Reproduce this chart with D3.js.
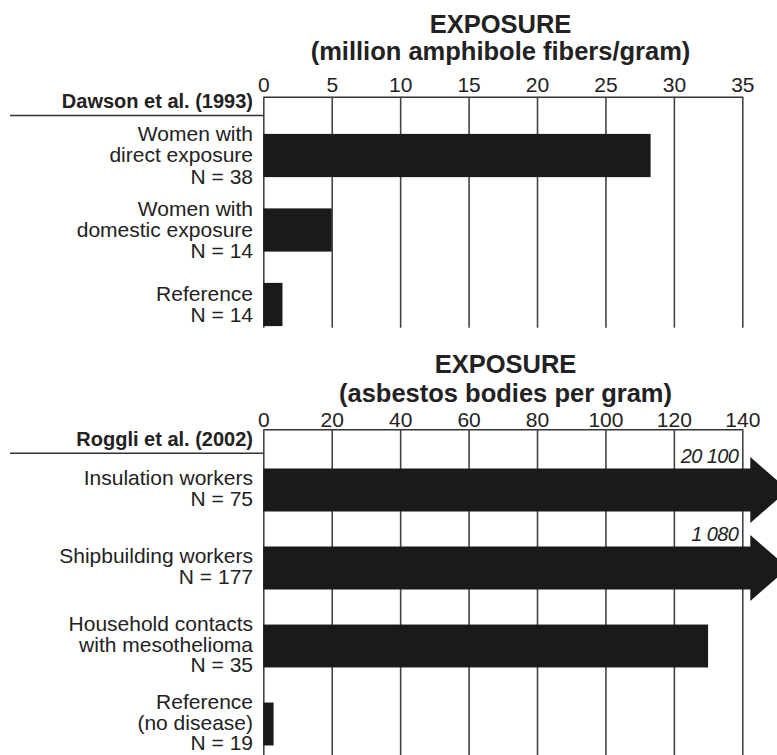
<!DOCTYPE html>
<html>
<head>
<meta charset="utf-8">
<script src="https://cdn.jsdelivr.net/npm/d3@7"></script>
<style>
  html, body { margin: 0; padding: 0; background: #fff; }
  svg { display: block; }
  text { font-family: "Liberation Sans", Arial, Helvetica, sans-serif; fill: #222; }
</style>
</head>
<body>
<svg id="chart" width="777" height="755"></svg>
<script>
// ---- Data ----
const dawsonTitle = "EXPOSURE";
const dawsonSubtitle = "(million amphibole fibers/gram)";
const dawsonStudy = "Dawson et al. (1993)";
const dawsonCategories = [
  ["Women with", "direct exposure", "N = 38"],
  ["Women with", "domestic exposure", "N = 14"],
  ["Reference", "N = 14"]
];
const dawsonValues = [28.3, 5.0, 1.4];
const dawsonTicks = [0, 5, 10, 15, 20, 25, 30, 35];

const roggliTitle = "EXPOSURE";
const roggliSubtitle = "(asbestos bodies per gram)";
const roggliStudy = "Roggli et al. (2002)";
const roggliCategories = [
  ["Insulation workers", "N = 75"],
  ["Shipbuilding workers", "N = 177"],
  ["Household contacts", "with mesothelioma", "N = 35"],
  ["Reference", "(no disease)", "N = 19"]
];
const roggliValues = [20100, 1080, 130, 3];
const roggliValueLabels = ["20 100", "1 080", "", ""];
const roggliTicks = [0, 20, 40, 60, 80, 100, 120, 140];

// ---- Drawing ----
const svg = d3.select("#chart");
const X0 = 263.3, X1 = 742.3;

function panel(cfg) {
  const g = svg.append("g");
  const max = cfg.ticks[cfg.ticks.length - 1];
  const x = d3.scaleLinear().domain([0, max]).range([X0, X1]);
  const idx = cfg.categories.map((d, i) => i);
  const y = d3.scaleBand().domain(idx).range(cfg.yRange)
    .paddingInner(cfg.pad).paddingOuter(cfg.pad / 2);

  // titles
  g.append("text").attr("x", cfg.titleX).attr("y", cfg.titleY)
    .attr("text-anchor", "middle").attr("font-weight", "bold")
    .attr("font-size", 25.5).text(cfg.title);
  g.append("text").attr("x", cfg.titleX).attr("y", cfg.subY)
    .attr("text-anchor", "middle").attr("font-weight", "bold")
    .attr("font-size", 25.5).text(cfg.subtitle);

  // axis with gridlines
  const axis = d3.axisTop(x).tickValues(cfg.ticks)
    .tickSizeInner(-cfg.gridH).tickSizeOuter(0)
    .tickPadding(cfg.tickPad).tickFormat(d3.format("d"));
  const ag = g.append("g").attr("transform", `translate(0,${cfg.axisY})`).call(axis);
  ag.select(".domain").attr("stroke", "#333").attr("stroke-width", 1.6);
  ag.selectAll(".tick line").attr("stroke", "#444").attr("stroke-width", 1.6);
  ag.selectAll(".tick text").attr("font-size", 21).attr("fill", "#333")
    .style("font-family", '"Liberation Sans", Arial, sans-serif');
  ag.attr("font-family", null).attr("font-size", null);

  // study label and separator
  g.append("text").attr("x", 253).attr("y", cfg.studyY)
    .attr("text-anchor", "end").attr("font-weight", "bold")
    .attr("font-size", 20).text(cfg.study);
  g.append("line").attr("x1", 10).attr("x2", X0)
    .attr("y1", cfg.sepY).attr("y2", cfg.sepY)
    .attr("stroke", "#333").attr("stroke-width", 1.6);

  // bars
  const bw = y.bandwidth();
  idx.forEach(i => {
    const v = cfg.values[i];
    const top = y(i), bot = y(i) + bw, cy = top + bw / 2;
    if (v > max) {
      const bodyEnd = x(max) + 8, tip = x(max) + 46, ext = 11.5;
      const pts = [[x(0), top], [bodyEnd, top], [bodyEnd, top - ext], [tip, cy],
                   [bodyEnd, bot + ext], [bodyEnd, bot], [x(0), bot]];
      g.append("path").attr("d", d3.line()(pts) + "Z").attr("fill", "#1a1a1a");
      g.append("text").attr("x", x(max) - 4).attr("y", top - 6)
        .attr("text-anchor", "end").attr("font-style", "italic")
        .attr("font-size", 20).attr("letter-spacing", -0.6)
        .text(cfg.valueLabels[i]);
    } else {
      g.append("rect").attr("x", x(0)).attr("y", top)
        .attr("width", x(v) - x(0)).attr("height", bw).attr("fill", "#1a1a1a");
    }
    // category label
    const lines = cfg.categories[i];
    const t = g.append("text").attr("text-anchor", "end").attr("font-size", 21).attr("fill", "#2a2a2a");
    lines.forEach((ln, k) => {
      t.append("tspan").attr("x", 253)
        .attr("y", cy + cfg.labelOff + (k - (lines.length - 1) / 2) * cfg.lineH)
        .text(ln);
    });
  });
}

panel({
  title: dawsonTitle, subtitle: dawsonSubtitle, study: dawsonStudy,
  categories: dawsonCategories, values: dawsonValues, ticks: dawsonTicks,
  titleX: 500.5, titleY: 33, subY: 60,
  axisY: 96.7, gridH: 231, tickPad: 4.7,
  studyY: 108, sepY: 115.5,
  yRange: [118.25, 341.75], pad: 0.42, labelOff: 6.8, lineH: 21.3
});

panel({
  title: roggliTitle, subtitle: roggliSubtitle, study: roggliStudy,
  categories: roggliCategories, values: roggliValues, ticks: roggliTicks,
  valueLabels: roggliValueLabels,
  titleX: 505.5, titleY: 373, subY: 401.5,
  axisY: 429.3, gridH: 330, tickPad: 2.3,
  studyY: 445.5, sepY: 453.3,
  yRange: [451, 763], pad: 0.45, labelOff: 5.5, lineH: 20.8
});
</script>
</body>
</html>
